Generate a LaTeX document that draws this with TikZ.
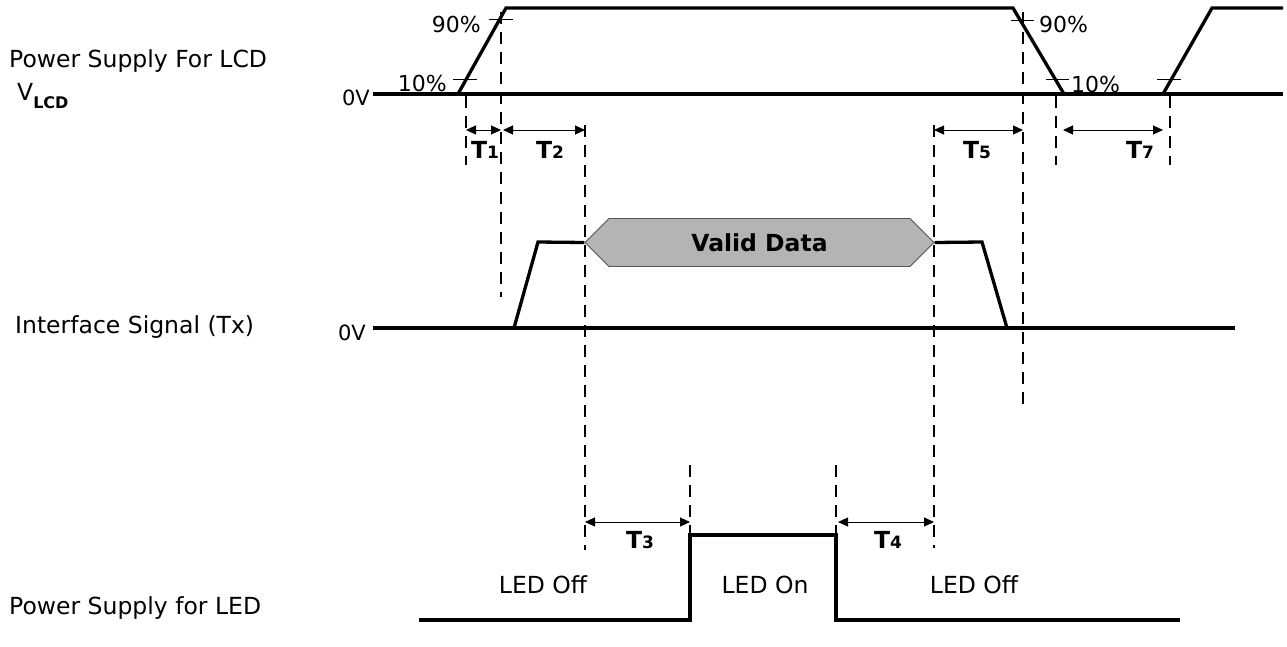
\documentclass[tikz,border=0pt]{standalone}
\usepackage{fontspec}
\setmainfont{DejaVu Sans}
\definecolor{vdfill}{HTML}{B4B4B4}
\definecolor{vdedge}{HTML}{555555}
\usetikzlibrary{arrows.meta,positioning,shapes.symbols}
\newcommand\tdim[1]{T{\fontsize{17}{20}\selectfont#1}}

\begin{document}
\begin{tikzpicture}[x=1pt,y=-1pt,
    sig/.style={line width=3.3pt,line join=miter},
    guide/.style={line width=2.6pt,dash pattern=on 12pt off 8pt},
    dim/.style={{Triangle[length=10pt,width=9pt]}-{Triangle[length=10pt,width=9pt]},line width=1pt},
    pctick/.style={line width=0.9pt},
    lbl/.style={font=\fontsize{23.5}{28}\selectfont,inner sep=0pt},
    zero/.style={font=\fontsize{21}{25}\selectfont,inner sep=0pt},
    pct/.style={font=\fontsize{22}{26}\selectfont,inner sep=0pt},
    tlbl/.style={font=\fontsize{23.5}{28}\selectfont\bfseries,inner sep=0pt,anchor=base},
    datablock/.style={signal,signal to=west and east,signal pointer angle=90,
      draw=vdedge,fill=vdfill,line width=0.8pt,minimum width=349pt,minimum height=48pt,
      inner sep=0pt,font=\fontsize{23.5}{28}\selectfont\bfseries}]
  \useasboundingbox (0,0) rectangle (1287,646);

  % signal names
  \node[lbl,anchor=base west] (lcdname) at (9,67) {Power Supply For LCD};
  \node[lbl,anchor=base west] (lcdsym) at (17,100)
    {V{\fontsize{16}{19}\selectfont\bfseries\raisebox{-8pt}{LCD}}};
  \node[lbl,anchor=base west] (txname) at (15,333) {Interface Signal (Tx)};
  \node[lbl,anchor=base west] (ledname) at (9,614) {Power Supply for LED};
  \node[zero,anchor=base east] (zlcd) at (370,105) {0V};
  \node[zero,anchor=base east] (ztx) at (366,340) {0V};

  % guide lines
  \foreach \name/\x/\ya/\yb in {gA/466/96/165, gB/501/12/297, gC/585/125/550,
      gD/690/465/548, gE/836/465/548, gF/934/125/548, gG/1023/12/410,
      gH/1056/96/165, gI/1170/96/165} {
    \coordinate (\name-t) at (\x,\ya);
    \coordinate (\name-b) at (\x,\yb);
    \draw[guide] (\name-t) -- (\name-b);
  }
  \coordinate (rowtop) at (0,130);
  \coordinate (rowbot) at (0,522);

  % VLCD
  \draw[sig] (zlcd.east |- 0,94) ++(3,0) -- (1283,94);
  \draw[sig] (458,94) -- (506,8) -- (1013,8) -- (1064,94);
  \draw[sig] (1163,94) -- (1212,8) -- (1283,8);
  \draw[pctick] (489,19) coordinate (k90a) -- (513,19);
  \draw[pctick] (453,79) coordinate (k10a) -- (477,79);
  \draw[pctick] (1011,20) -- (1034,20) coordinate (k90b);
  \draw[pctick] (1046,79) -- (1069,79) coordinate (k10b);
  \draw[pctick] (1157,79) -- (1181,79);
  \node[pct,anchor=base east] (p90a) at (481,32) {90\%};
  \node[pct,anchor=base east] (p10a) at (447,91) {10\%};
  \node[pct,anchor=base west] (p90b) at (1039,32) {90\%};
  \node[pct,anchor=base west] (p10b) at (1071,92) {10\%};

  % Tx
  \node[datablock] (valid) at (759.5,242.5) {Valid Data};
  \draw[sig] (ztx.east |- 0,328) ++(7,0) -- (1235,328);
  \draw[sig] (514,328) -- (538,242) -- (valid.west);
  \draw[sig] (valid.east) -- (982,242) -- (1007,328);

  % LED
  \draw[sig] (419,620) -- (690,620) -- (690,535) -- (836,535) -- (836,620) -- (1180,620);
  \node[lbl,anchor=base] (off1) at (543,593) {LED Off};
  \node[lbl,anchor=base] (on) at (765,593) {LED On};
  \node[lbl,anchor=base] (off2) at (974,593) {LED Off};

  % timings
  \draw[dim] (gA-t |- rowtop) -- (gB-t |- rowtop);
  \draw[dim] (gB-t |- rowtop) ++(2,0) -- (gC-t |- rowtop);
  \draw[dim] (gF-t |- rowtop) -- (gG-t |- rowtop);
  \draw[dim,shorten <=7pt,shorten >=7pt] (gH-t |- rowtop) -- (gI-t |- rowtop);
  \draw[dim] (gC-t |- rowbot) -- (gD-t |- rowbot);
  \draw[dim] (gE-t |- rowbot) ++(2,0) -- (gF-t |- rowbot);
  \node[tlbl] (t1) at (485,158) {\tdim{1}};
  \node[tlbl] (t2) at (550,158) {\tdim{2}};
  \node[tlbl] (t5) at (977,158) {\tdim{5}};
  \node[tlbl] (t7) at (1140,158) {\tdim{7}};
  \node[tlbl] (t3) at (640,548) {\tdim{3}};
  \node[tlbl] (t4) at (888,548) {\tdim{4}};
\end{tikzpicture}
\end{document}
